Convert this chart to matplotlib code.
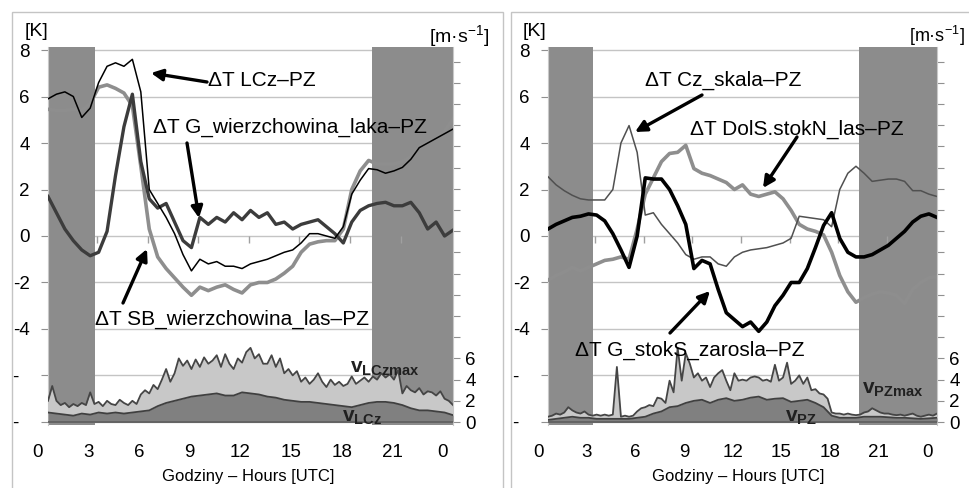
import numpy as np
import matplotlib
matplotlib.use("Agg")
import matplotlib.pyplot as plt
from matplotlib.patches import Rectangle
from matplotlib.transforms import blended_transform_factory

plt.rcParams['font.family'] = ['Liberation Sans', 'DejaVu Sans']
plt.rcParams['mathtext.fontset'] = 'custom'
plt.rcParams['mathtext.rm'] = 'Liberation Sans'
plt.rcParams['mathtext.bf'] = 'Liberation Sans:bold'
plt.rcParams['mathtext.it'] = 'Liberation Sans:italic'

# ---------------- data ----------------
# temperature differences, every 30 min from 0.6 h to 24.6 h
hours_T = 0.6 + 0.5 * np.arange(49)
# wind maximum, every 15 min
hours_W = 0.6 + 0.25 * np.arange(97)

night_spans = [(0.6, 3.4), (19.8, 24.6)]
xtick_pos = [0, 3, 6, 9, 12, 15, 18, 21, 24]
xtick_lab = ['0', '3', '6', '9', '12', '15', '18', '21', '0']
ytick_pos = [-8, -6, -4, -2, 0, 2, 4, 6, 8]
ytick_lab = ['-  ', '-  ', '-4', '-2', '0', '2', '4', '6', '8']
y2tick_pos = list(range(0, 35, 2))
y2tick_lab = ['0', '2', '4', '6'] + [''] * 14

# left panel
dT_LCz = [5.9, 6.1, 6.2, 6.0, 5.1, 5.5, 6.6, 7.3, 7.45, 7.3, 7.6, 6.2, 2.0, 1.4, 0.8,
          0.1, -0.8, -1.5, -1.0, -1.2, -1.1, -1.3, -1.3, -1.4, -1.2, -1.1, -1.0, -0.85,
          -0.7, -0.6, -0.3, 0.1, 0.1, 0.0, -0.1, 0.4, 1.8, 2.4, 2.9, 2.85, 2.7, 2.8,
          2.95, 3.3, 3.8, 4.0, 4.2, 4.4, 4.6]
dT_G_wl = [1.7, 1.0, 0.3, -0.2, -0.6, -0.85, -0.7, 0.2, 2.6, 4.7, 6.1, 3.2, 1.6, 1.2,
           1.4, 0.6, -0.2, -0.5, 0.8, 0.5, 0.8, 0.6, 1.0, 0.7, 1.1, 0.8, 1.0, 0.5, 0.6,
           0.3, 0.5, 0.6, 0.7, 0.4, 0.1, -0.3, 0.6, 1.1, 1.3, 1.4, 1.45, 1.3, 1.3, 1.45,
           1.0, 0.3, 0.6, 0.0, 0.25]
dT_SB_wl = [5.45, 5.4, 5.4, 5.45, 5.4, 5.7, 6.4, 6.5, 6.35, 6.15, 5.6, 3.0, 0.3, -0.9,
            -1.4, -1.8, -2.2, -2.55, -2.2, -2.35, -2.2, -2.1, -2.3, -2.45, -2.1, -2.0,
            -2.0, -1.85, -1.6, -1.3, -0.7, -0.35, -0.25, -0.2, -0.2, 0.3, 2.0, 2.8, 3.25,
            3.1, 3.1, 3.1, 3.2, 3.4, 3.85, 4.05, 4.2, 4.5, 5.05]
v_LCz_max = [2.0, 3.4, 2.0, 1.6, 1.8, 1.4, 1.7, 1.5, 1.8, 1.6, 2.8, 1.7, 1.9, 1.5, 2.0,
             1.7, 1.6, 2.1, 1.8, 1.6, 2.0, 1.7, 2.6, 3.0, 2.7, 3.5, 3.1, 4.0, 5.0, 3.8,
             4.6, 6.0, 5.3, 5.8, 5.0, 5.9, 5.2, 6.1, 5.5, 5.8, 6.3, 5.2, 6.4, 5.5, 5.0,
             6.0, 5.6, 6.6, 7.0, 6.0, 6.4, 5.5, 5.5, 6.3, 5.2, 6.0, 4.6, 5.0, 4.4, 4.8,
             3.8, 4.2, 3.6, 4.0, 4.6, 3.8, 3.3, 4.0, 3.5, 3.8, 3.4, 3.6, 4.3, 3.6, 3.9,
             4.2, 3.8, 4.3, 4.0, 4.6, 4.2, 4.5, 4.0, 4.9, 2.7, 3.4, 3.0, 2.8, 3.2, 2.6,
             2.9, 2.8, 2.5, 2.9, 2.2, 2.0, 1.6]
v_LCz = [0.9, 0.8, 0.7, 0.6, 0.8, 0.7, 0.9, 0.8, 0.9, 0.8, 0.9, 1.0, 1.1, 1.5, 1.8,
         2.0, 2.2, 2.4, 2.5, 2.6, 2.7, 2.5, 2.5, 2.8, 2.7, 2.6, 2.4, 2.3, 2.1, 2.0, 1.9,
         1.9, 1.8, 1.7, 1.6, 1.5, 1.4, 1.6, 1.8, 1.9, 1.9, 1.8, 1.6, 1.3, 1.1, 1.1, 1.0,
         0.9, 0.65]

# right panel
dT_Cz_sk = [2.55, 2.2, 1.95, 1.75, 1.6, 1.55, 1.55, 1.55, 2.0, 4.0, 4.75, 3.6, 0.9, 1.0,
            0.5, 0.1, -0.3, -0.8, -1.0, -0.9, -0.9, -1.2, -1.3, -0.9, -0.7, -0.6, -0.55,
            -0.5, -0.4, -0.3, -0.1, 0.85, 0.8, 0.75, 0.7, 0.4, 2.0, 2.7, 3.0, 2.7, 2.35,
            2.4, 2.45, 2.45, 2.35, 1.95, 1.95, 1.8, 1.7]
dT_DolS = [-1.9, -1.7, -1.55, -1.35, -1.5, -1.35, -1.2, -1.05, -1.0, -0.9, -1.0, 0.3,
           1.8, 2.5, 3.2, 3.55, 3.6, 3.9, 2.9, 2.7, 2.6, 2.45, 2.3, 2.0, 2.2, 1.8, 1.7,
           1.8, 1.9, 1.6, 1.1, 0.5, 0.3, 0.2, 0.05, -0.7, -1.7, -2.4, -2.85, -2.65, -2.5,
           -2.4, -2.45, -2.55, -2.9, -2.3, -2.0, -1.8, -1.75]
dT_G_sz = [0.3, 0.5, 0.65, 0.8, 0.85, 0.95, 0.9, 0.65, 0.1, -0.6, -1.35, 0.0, 2.5, 2.45,
           2.45, 2.0, 1.3, 0.5, -1.4, -1.05, -1.2, -2.3, -3.3, -3.6, -3.9, -3.7, -4.1,
           -3.7, -3.0, -2.55, -2.0, -2.0, -1.4, -0.5, 0.45, 1.0, -0.1, -0.7, -0.9, -0.9,
           -0.8, -0.6, -0.4, -0.1, 0.2, 0.6, 0.85, 0.95, 0.8]
v_PZ_max = [0.5, 0.6, 0.8, 0.7, 0.9, 1.4, 1.1, 0.9, 0.8, 1.0, 0.7, 0.6, 0.7, 0.6, 0.7,
            0.6, 0.7, 5.2, 0.5, 0.6, 0.5, 0.6, 1.0, 1.3, 1.4, 1.6, 1.5, 2.3, 2.2, 1.8,
            3.9, 2.8, 7.0, 3.9, 6.5, 5.5, 4.2, 4.6, 3.9, 4.2, 3.3, 4.2, 4.6, 4.9, 3.9,
            3.0, 4.6, 3.9, 4.0, 3.9, 4.2, 4.3, 4.2, 3.9, 4.0, 3.8, 5.4, 3.9, 4.2, 5.6,
            3.6, 3.9, 4.4, 3.6, 4.2, 3.0, 3.1, 2.7, 2.6, 2.2, 0.9, 0.8, 0.8, 0.7, 0.8,
            0.7, 0.65, 0.7, 0.9, 1.0, 1.3, 1.1, 0.9, 0.8, 0.8, 0.7, 0.65, 0.7, 0.6, 0.7,
            0.8, 0.6, 0.5, 0.6, 0.7, 0.6, 0.8]
v_PZ = [0.2, 0.3, 0.4, 0.5, 0.4, 0.4, 0.3, 0.3, 0.3, 0.3, 0.3, 0.4, 0.5, 0.8, 1.0, 1.4,
        1.5, 1.8, 2.0, 2.1, 1.8, 2.1, 2.25, 2.0, 2.1, 2.3, 2.4, 2.1, 2.2, 2.25, 1.9, 2.0,
        2.1, 1.8, 1.4, 0.6, 0.4, 0.4, 0.4, 0.5, 0.5, 0.5, 0.45, 0.4, 0.4, 0.35, 0.3,
        0.35, 0.4]

# ---------------- figure ----------------
W, H = 970, 488
fig = plt.figure(figsize=(W / 100, H / 100), dpi=100)

# panel frames
for (x0, x1) in [(12, 503), (511, 975)]:
    fig.patches.append(Rectangle((x0 / W, -0.05), (x1 - x0) / W, 1 - 12 / H + 0.05,
                                 transform=fig.transFigure, fill=False,
                                 edgecolor='#c4c4c4', lw=1.0))

BAND = '#8c8c8c'
GRID = '#c4c4c4'


def make_panel(xpix0, xpix1):
    ax = fig.add_axes([xpix0 / W, (H - 425) / H, (xpix1 - xpix0) / W, 378 / H])
    ax.set_xlim(0.6, 24.6)
    ax.set_ylim(-8.13, 8.13)
    ax.set_axisbelow(True)
    ax.yaxis.grid(True, color=GRID, lw=1.0)
    ax.set_yticks(ytick_pos)
    ax.set_yticklabels(ytick_lab)
    ax.set_xticks([])
    ax.tick_params(axis='y', direction='out', length=5, color='#909090',
                   labelsize=13.5, pad=8)
    for s in ['top', 'right', 'bottom']:
        ax.spines[s].set_visible(False)
    ax.spines['left'].set_color('#c8c8c8')
    for a, b in night_spans:
        ax.axvspan(a, b, color=BAND, lw=0, zorder=1)
    ax.axhline(-8.0, color='#707070', lw=1.3, zorder=1.5)
    # small tick marks on the 0 line
    ax.vlines([3.5, 6.5, 9.5, 12.5, 15.5, 18.5, 21.5], -0.3, 0.0,
              color='#a0a0a0', lw=1.0, zorder=1.2)
    trans = blended_transform_factory(ax.transData, ax.transAxes)
    for p, lab in zip(xtick_pos, xtick_lab):
        ax.text(p, -0.074, lab, transform=trans, ha='center', va='center',
                fontsize=13.5, clip_on=False)
    ax2 = ax.twinx()
    ax2.set_ylim(-0.28, 35.38)
    ax2.set_yticks(y2tick_pos)
    ax2.set_yticklabels(y2tick_lab)
    ax2.tick_params(axis='y', direction='out', length=5, color='#909090',
                    labelsize=13.5, pad=4)
    for s in ['top', 'left', 'bottom']:
        ax2.spines[s].set_visible(False)
    ax2.spines['right'].set_color('#c8c8c8')
    return ax, ax2


def wind(ax2, vmax, vmean):
    ax2.fill_between(hours_W, 0, vmax, color='#c8c8c8', lw=0, zorder=1)
    ax2.plot(hours_W, vmax, color='#454545', lw=1.3, zorder=2)
    ax2.fill_between(hours_T, 0, vmean, color='#808080', lw=0, zorder=3)
    ax2.plot(hours_T, vmean, color='#404040', lw=1.3, zorder=4)
    ax2.axhline(0, color='#606060', lw=1.3, zorder=5)


def arrow(ax, tail, tip):
    ax.annotate('', xy=(tip[0], H - tip[1]), xytext=(tail[0], H - tail[1]),
                xycoords='figure pixels', textcoords='figure pixels',
                arrowprops=dict(arrowstyle='-|>', color='black', lw=2.4,
                                mutation_scale=17, shrinkA=0, shrinkB=0),
                zorder=10)


def ftext(x, y, s, **kw):
    fig.text(x / W, 1 - y / H, s, **kw)


ANN = 15

# ---------- left panel ----------
axL, axL2 = make_panel(48, 453)
axL.plot(hours_T, dT_SB_wl, color='#8e8e8e', lw=2.6, zorder=3)
axL.plot(hours_T, dT_G_wl, color='#3c3c3c', lw=2.4, zorder=4)
axL.plot(hours_T, dT_LCz, color='black', lw=1.1, zorder=5)
wind(axL2, v_LCz_max, v_LCz)

ftext(208, 80, 'ΔT LCz–PZ', fontsize=ANN, ha='left', va='center')
arrow(axL, (207, 82), (151, 73))
ftext(153, 127, 'ΔT G_wierzchowina_laka–PZ', fontsize=ANN, ha='left', va='center')
arrow(axL, (187, 143), (199, 218))
ftext(95, 319, 'ΔT SB_wierzchowina_las–PZ', fontsize=ANN, ha='left', va='center')
arrow(axL, (123, 303), (147, 249))
ftext(350, 373, r'$\mathbf{v_{LCzmax}}$', fontsize=15, ha='left', va='baseline',
      color='#202020')
ftext(342, 422, r'$\mathbf{v_{LCz}}$', fontsize=15, ha='left', va='baseline',
      color='#202020')
ftext(37, 32, '[K]', fontsize=14, ha='center', va='center')
ftext(429, 36, r'[m·s$^{\mathregular{-1}}$]', fontsize=14, ha='left', va='center')
ftext(248, 477, 'Godziny – Hours [UTC]', fontsize=12, ha='center', va='center')

# ---------- right panel ----------
axR, axR2 = make_panel(548, 937)
axR.plot(hours_T, dT_DolS, color='#8e8e8e', lw=2.6, zorder=3)
axR.plot(hours_T, dT_Cz_sk, color='#505050', lw=1.1, zorder=4)
axR.plot(hours_T, dT_G_sz, color='black', lw=2.6, zorder=5)
wind(axR2, v_PZ_max, v_PZ)

ftext(645, 80, 'ΔT Cz_skala–PZ', fontsize=ANN, ha='left', va='center')
arrow(axR, (702, 95), (635, 132))
ftext(690, 129, 'ΔT DolS.stokN_las–PZ', fontsize=ANN, ha='left', va='center')
arrow(axR, (797, 137), (763, 188))
ftext(575, 350, 'ΔT G_stokS_zarosla–PZ', fontsize=ANN, ha='left', va='center')
arrow(axR, (670, 333), (710, 291))
ftext(862, 394, r'$\mathbf{v_{PZmax}}$', fontsize=15, ha='left', va='baseline',
      color='#202020')
ftext(785, 422, r'$\mathbf{v_{PZ}}$', fontsize=15, ha='left', va='baseline',
      color='#202020')
ftext(535, 32, '[K]', fontsize=14, ha='center', va='center')
ftext(909, 36, r'[m·s$^{\mathregular{-1}}$]', fontsize=13, ha='left', va='center')
ftext(738, 477, 'Godziny – Hours [UTC]', fontsize=12, ha='center', va='center')

fig.savefig('out.png', dpi=100)
